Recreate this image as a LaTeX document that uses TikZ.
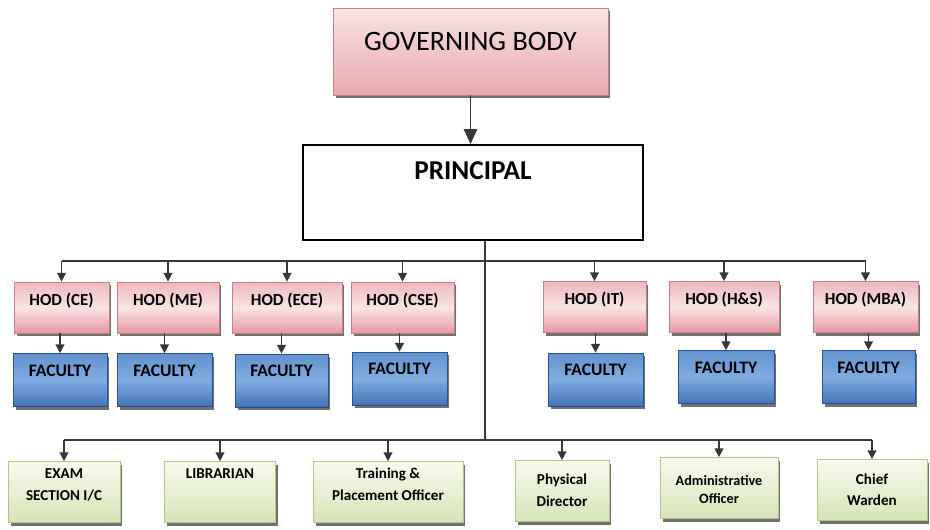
\documentclass[tikz,border=0pt]{standalone}
\usepackage{fontspec}
\setmainfont{Carlito}
\usepackage{xcolor}
\definecolor{rosetop}{RGB}{236,184,188}
\definecolor{rosemid}{RGB}{249,228,229}
\definecolor{rosebot}{RGB}{228,152,160}
\definecolor{roseline}{RGB}{200,128,136}
\definecolor{bluetop}{RGB}{98,146,206}
\definecolor{bluemid}{RGB}{128,172,226}
\definecolor{bluebot}{RGB}{68,116,184}
\definecolor{blueline}{RGB}{42,82,142}
\definecolor{greentop}{RGB}{248,250,236}
\definecolor{greenbot}{RGB}{214,228,184}
\definecolor{greenline}{RGB}{178,198,140}
\definecolor{wire}{RGB}{55,55,55}
\usepackage{tikz}
\usetikzlibrary{arrows.meta,positioning,shadows}
\tikzset{
  >={Triangle[length=5pt,width=5pt]},
  boxshadow/.style={drop shadow={shadow xshift=0.5mm,shadow yshift=-0.6mm,fill=black!75,opacity=0.75}},
  board/.style={rectangle,draw=roseline,top color=rosemid,bottom color=rosebot!85,boxshadow,
    minimum width=5.5cm,minimum height=1.74cm,font=\fontsize{16}{18}\selectfont,
    text height=0.35cm,text depth=0.41cm},
  head/.style={rectangle,draw=black,line width=1.1pt,fill=white,minimum width=6.8cm,minimum height=1.9cm,
    font=\bfseries\fontsize{15.5}{17}\selectfont,text height=0.35cm,text depth=0.87cm},
  hod/.style={rectangle,draw=roseline,top color=rosetop,bottom color=rosebot,middle color=rosemid,boxshadow,
    minimum height=1.02cm,font=\bfseries\fontsize{9.6}{11}\selectfont,text height=0.25cm,text depth=0.34cm},
  faculty/.style={rectangle,draw=blueline,top color=bluetop,bottom color=bluebot,middle color=bluemid,boxshadow,
    minimum height=1.06cm,font=\bfseries\fontsize{10}{11}\selectfont,text height=0.25cm,text depth=0.41cm},
  officer/.style={rectangle,draw=greenline,top color=greentop,bottom color=greenbot,boxshadow,
    minimum height=1.22cm,align=center,font=\bfseries\fontsize{8.6}{12}\selectfont},
  link/.style={draw=wire,line width=0.85pt}
}

\begin{document}
\begin{tikzpicture}[x=0.02cm,y=-0.02cm]
  \useasboundingbox (0,0) rectangle (930,529);

  \node[board] (gov) at (470.5,51.5) {GOVERNING BODY};
  \node[head] (principal) at (473,192.5) {PRINCIPAL};

  % heads of departments
  \node[hod,minimum width=1.9cm]  (hce)  at (61.5,307.5)  {HOD (CE)};
  \node[hod,minimum width=2.04cm] (hme)  at (168,307.5)   {HOD (ME)};
  \node[hod,minimum width=2.2cm]  (hece) at (287,307.5)   {HOD (ECE)};
  \node[hod,minimum width=2.06cm] (hcse) at (402.5,307.5) {HOD (CSE)};
  \node[hod,minimum width=2.06cm] (hit)  at (594.5,307)   {HOD (IT)};
  \node[hod,minimum width=2.2cm]  (hhs)  at (724,307)     {HOD (H\&S)};
  \node[hod,minimum width=2.1cm]  (hmba) at (865.5,307)   {HOD (MBA)};

  \node[faculty,minimum width=1.88cm] (fce)  at (60,380)    {FACULTY};
  \node[faculty,minimum width=1.9cm]  (fme)  at (164.5,380) {FACULTY};
  \node[faculty,minimum width=1.86cm] (fece) at (281.5,380.5) {FACULTY};
  \node[faculty,minimum width=1.9cm]  (fcse) at (399.5,378.5) {FACULTY};
  \node[faculty,minimum width=1.9cm]  (fit)  at (595.5,379.5) {FACULTY};
  \node[faculty,minimum width=1.92cm] (fhs)  at (726,377)   {FACULTY};
  \node[faculty,minimum width=1.86cm] (fmba) at (868.5,377) {FACULTY};

  % other officers
  \node[officer,minimum width=2.24cm,text height=0.46cm,text depth=0.14cm] (exam) at (64,492) {EXAM\\SECTION I/C};
  \node[officer,minimum width=2.22cm,inner ysep=0pt,text height=0.3cm,text depth=0.86cm] (lib) at (220,492) {LIBRARIAN};
  \node[officer,minimum width=3cm,text height=0.45cm,text depth=0.13cm] (tpo) at (388,492) {Training \&\\Placement Officer};
  \node[officer,minimum width=1.88cm,text height=0.65cm,text depth=0.05cm] (pd) at (562,491) {Physical\\Director};
  \node[officer,minimum width=2.36cm,text height=0.65cm,text depth=0.05cm,
    font=\bfseries\fontsize{8.1}{10}\selectfont] (ao) at (719,488) {Administrative\\Officer};
  \node[officer,minimum width=2.2cm,text height=0.67cm,text depth=0.05cm] (cw) at (872,490) {Chief\\Warden};

  \coordinate (hbus) at (485,261);
  \coordinate (spine) at (485,440);

  \draw[link,-{Triangle[length=0.3cm,width=0.27cm]}] (gov.south) -- (gov.south |- principal.north);
  \draw[link] (principal.south -| spine) -- (spine);

  \draw[link] (hbus -| hce.north) -- (hbus -| hmba.north);
  \foreach \h/\f in {hce/fce,hme/fme,hece/fece,hcse/fcse,hit/fit,hhs/fhs,hmba/fmba}{
    \draw[link,->] (hbus -| \h.north) -- (\h.north);
    \draw[link,->] (\h.south -| \f.north) -- (\f.north);
  }

  \draw[link] (spine -| exam.north) -- (spine -| cw.north);
  \foreach \o in {exam,lib,tpo,pd,ao,cw}
    \draw[link,->] (spine -| \o.north) -- (\o.north);
\end{tikzpicture}
\end{document}
